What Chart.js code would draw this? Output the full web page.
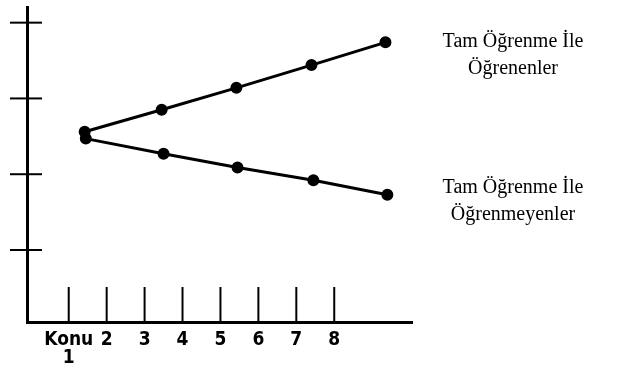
<!DOCTYPE html>
<html>
<head>
<meta charset="utf-8">
<script src="https://cdn.jsdelivr.net/npm/chart.js@4/dist/chart.umd.min.js"></script>
<style>
  html, body { margin: 0; padding: 0; background: #fff; }
  #wrap { width: 622px; height: 368px; }
</style>
</head>
<body>
<div id="wrap"><canvas id="konuChart" width="622" height="368"></canvas></div>
<script>
// konu ticks along the bottom
const konuTicks = [1, 2, 3, 4, 5, 6, 7, 8];
const konuLabels = [['Konu', '1'], '2', '3', '4', '5', '6', '7', '8'];
const yTicks = [1, 2, 3, 4];

// series
const ogrenenX = [1.42, 3.45, 5.42, 7.4, 9.35];
const ogrenenY = [2.56, 2.85, 3.14, 3.44, 3.74];
const ogrenmeyenX = [1.45, 3.5, 5.45, 7.45, 9.4];
const ogrenmeyenY = [2.47, 2.27, 2.09, 1.92, 1.73];

const seriesNames = [
    ['Tam Öğrenme İle', 'Öğrenenler'],
    ['Tam Öğrenme İle', 'Öğrenmeyenler']
];

function toPoints(xs, ys) {
    return xs.map((x, i) => ({ x: x, y: ys[i] }));
}

// hand drawn tick marks + the text on the right
const sketchMarks = {
    id: 'sketchMarks',
    afterDraw(chart) {
        const ctx = chart.ctx;
        const xs = chart.scales.x;
        const ys = chart.scales.y;
        const area = chart.chartArea;
        ctx.save();
        ctx.strokeStyle = '#000';
        ctx.lineWidth = 2;
        xs.ticks.forEach(t => {
            const px = xs.getPixelForValue(t.value);
            ctx.beginPath();
            ctx.moveTo(px, area.bottom);
            ctx.lineTo(px, area.bottom - 35);
            ctx.stroke();
        });
        ys.ticks.forEach(t => {
            const py = ys.getPixelForValue(t.value);
            ctx.beginPath();
            ctx.moveTo(area.left - 17, py);
            ctx.lineTo(area.left + 15, py);
            ctx.stroke();
        });

        // series names at the right side
        ctx.fillStyle = '#000';
        ctx.font = '20px "Liberation Serif", "DejaVu Serif", serif';
        ctx.textAlign = 'center';
        ctx.textBaseline = 'middle';
        const blockY = [42, 188];
        chart.data.datasets.forEach((ds, i) => {
            ds.label.forEach((line, j) => {
                ctx.fillText(line, 513, blockY[i] + j * 27);
            });
        });
        ctx.restore();
    }
};

const ctx = document.getElementById('konuChart').getContext('2d');
new Chart(ctx, {
    type: 'scatter',
    data: {
        datasets: [
            {
                label: seriesNames[0],
                data: toPoints(ogrenenX, ogrenenY),
                showLine: true,
                borderColor: '#000',
                backgroundColor: '#000',
                borderWidth: 3,
                pointRadius: 4.5,
                pointBackgroundColor: '#000',
                pointBorderColor: '#000'
            },
            {
                label: seriesNames[1],
                data: toPoints(ogrenmeyenX, ogrenmeyenY),
                showLine: true,
                borderColor: '#000',
                backgroundColor: '#000',
                borderWidth: 3,
                pointRadius: 4.5,
                pointBackgroundColor: '#000',
                pointBorderColor: '#000'
            }
        ]
    },
    options: {
        responsive: false,
        animation: false,
        layout: {
            padding: { left: 27, right: 210, top: 5, bottom: 0 }
        },
        scales: {
            x: {
                type: 'linear',
                min: -0.1,
                max: 10.05,
                afterBuildTicks: function(scale) {
                    scale.ticks = konuTicks.map(v => ({ value: v }));
                },
                afterFit: function(scale) {
                    scale.height = 46;
                },
                ticks: {
                    autoSkip: false,
                    maxRotation: 0,
                    padding: 10,
                    color: '#000',
                    font: { family: '"DejaVu Sans Condensed", "DejaVu Sans"', size: 19, weight: 'bold', lineHeight: 0.9 },
                    callback: function(value) {
                        const i = konuTicks.indexOf(value);
                        return i >= 0 ? konuLabels[i] : '';
                    }
                },
                grid: { display: false, drawTicks: false },
                border: { display: true, color: '#000', width: 3 }
            },
            y: {
                type: 'linear',
                min: 0.05,
                max: 4.2,
                afterBuildTicks: function(scale) {
                    scale.ticks = yTicks.map(v => ({ value: v }));
                },
                afterFit: function(scale) {
                    scale.width = 0;
                },
                ticks: { display: false },
                grid: { display: false, drawTicks: false },
                border: { display: true, color: '#000', width: 3 }
            }
        },
        plugins: {
            legend: { display: false },
            tooltip: { enabled: false }
        }
    },
    plugins: [sketchMarks]
});
</script>
</body>
</html>
